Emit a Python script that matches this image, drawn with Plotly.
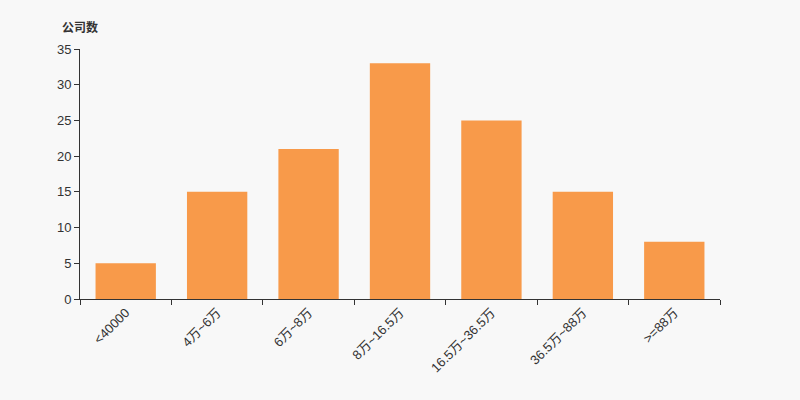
import plotly.graph_objects as go

categories = ["<40000", "4万~6万", "6万~8万", "8万~16.5万", "16.5万~36.5万", "36.5万~88万", ">=88万"]
counts = [5, 15, 21, 33, 25, 15, 8]
y_ticks = [0, 5, 10, 15, 20, 25, 30, 35]

font_family = "Liberation Sans, Arial, Noto Sans CJK SC, sans-serif"

fig = go.Figure(go.Bar(
    x=categories, y=counts,
    marker=dict(color="#f89a4a", line=dict(width=0)),
    width=0.66,
    hoverinfo="skip",
))

fig.update_layout(
    width=800, height=400,
    paper_bgcolor="#f8f8f8", plot_bgcolor="#f8f8f8",
    margin=dict(l=80, r=80, t=49, b=101),
    showlegend=False,
    font=dict(family=font_family, size=12, color="#333333"),
    xaxis=dict(
        type="category", tickson="boundaries",
        showline=True, linecolor="#333333", linewidth=1,
        ticks="outside", ticklen=5, tickcolor="#333333",
        tickangle=-45, showgrid=False, zeroline=False,
        tickfont=dict(size=13, color="#333333"),
        range=[-0.5, 6.5],
    ),
    yaxis=dict(
        range=[0, 35], tickvals=y_ticks,
        showline=True, linecolor="#333333", linewidth=1,
        ticks="outside", ticklen=5, tickcolor="#333333",
        showgrid=False, zeroline=False,
        tickfont=dict(size=13, color="#333333"),
    ),
    annotations=[dict(
        text="<b>公司数</b>", xref="paper", yref="paper",
        x=-0.031, y=1.0, yshift=22, xanchor="left", yanchor="middle",
        showarrow=False, font=dict(size=12, color="#333333"),
    )],
)

fig.write_html(
    "out.html",
    config={"displayModeBar": False},
    post_script="document.body.style.margin='0';document.body.style.background='#f8f8f8';",
)
